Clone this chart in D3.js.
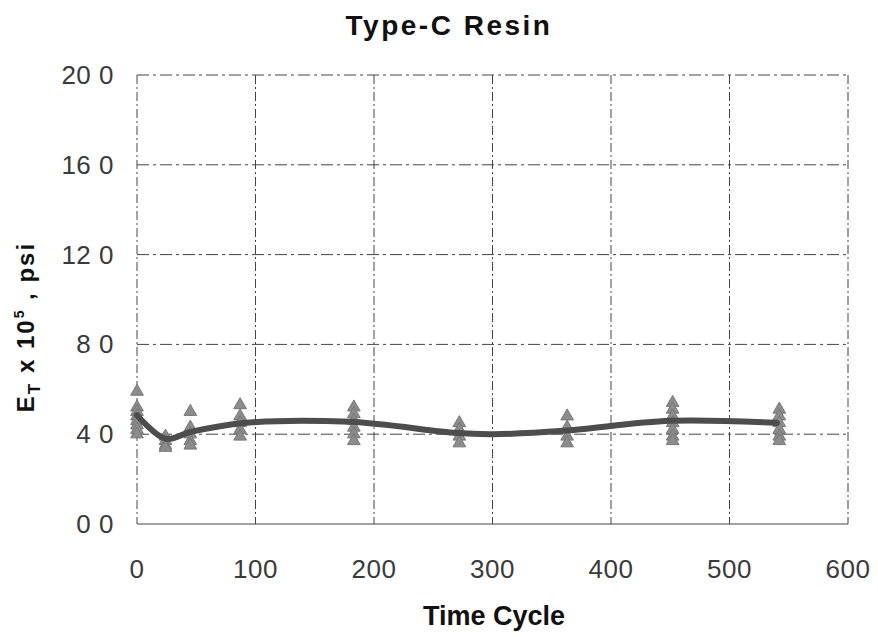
<!DOCTYPE html>
<html>
<head>
<meta charset="utf-8">
<script src="https://cdn.jsdelivr.net/npm/d3@7"></script>
<style>
  body { margin: 0; background: #fff; }
  .tick-label { font-family: "Liberation Sans", Arial, sans-serif; font-size: 26px; fill: #3a3a3a; letter-spacing: 0.5px; }
  .title { font-family: "Liberation Sans", Arial, sans-serif; font-weight: bold; font-size: 28px; fill: #111; letter-spacing: 2.5px; }
  .axis-title { font-family: "Liberation Sans", Arial, sans-serif; font-weight: bold; font-size: 27px; fill: #111; }
</style>
</head>
<body>
<div id="chart"></div>
<script>
// data (E_T in units of 10^5 psi)
var xTicks = [0, 100, 200, 300, 400, 500, 600];
var yTicks = [0, 4, 8, 12, 16, 20];
var yTickLabels = ["0 0", "4 0", "8 0", "12 0", "16 0", "20 0"];

var sampleTimes = [0, 24, 45, 87, 183, 272, 363, 452, 542];
var sampleValues = [
  [5.9, 5.2, 5.0, 4.8, 4.6, 4.4, 4.2, 4.0],
  [3.9, 3.7, 3.5, 3.4],
  [5.0, 4.3, 4.0, 3.7, 3.5],
  [5.3, 4.8, 4.5, 4.2, 3.9],
  [5.2, 4.9, 4.6, 4.3, 4.0, 3.7],
  [4.5, 4.2, 3.9, 3.6],
  [4.8, 4.3, 3.9, 3.6],
  [5.4, 5.1, 4.8, 4.5, 4.2, 3.9, 3.7],
  [5.1, 4.8, 4.5, 4.2, 3.9, 3.7]
];

var trendTimes = [0, 24, 45, 90, 180, 270, 300, 360, 450, 540];
var trendValues = [4.85, 3.8, 4.1, 4.5, 4.55, 4.05, 4.0, 4.15, 4.6, 4.5];

var W = 878, H = 637;
var margin = {top: 75, right: 30, bottom: 113, left: 137},
    width = W - margin.left - margin.right,
    height = H - margin.top - margin.bottom;

var svg = d3.select("#chart").append("svg")
    .attr("width", W)
    .attr("height", H);

var g = svg.append("g")
    .attr("transform", "translate(" + margin.left + "," + margin.top + ")");

var x = d3.scaleLinear().domain([0, 600]).range([0, width]);
var y = d3.scaleLinear().domain([0, 20]).range([height, 0]);

// grid lines
g.selectAll(".vgrid")
  .data(xTicks)
  .enter().append("line")
    .attr("x1", function(d) { return x(d); })
    .attr("x2", function(d) { return x(d); })
    .attr("y1", 0)
    .attr("y2", height)
    .attr("stroke", "#444")
    .attr("stroke-width", 1)
    .attr("stroke-dasharray", "9,3,2,3");

g.selectAll(".hgrid")
  .data(yTicks)
  .enter().append("line")
    .attr("x1", 0)
    .attr("x2", width)
    .attr("y1", function(d) { return y(d); })
    .attr("y2", function(d) { return y(d); })
    .attr("stroke", "#444")
    .attr("stroke-width", 1)
    .attr("stroke-dasharray", function(d) { return d === 0 ? null : "12,4,3,4"; });

// tick labels
g.selectAll(".xlab")
  .data(xTicks)
  .enter().append("text")
    .attr("class", "tick-label")
    .attr("x", function(d) { return x(d); })
    .attr("y", height + 54)
    .attr("text-anchor", "middle")
    .text(function(d) { return d; });

g.selectAll(".ylab")
  .data(yTicks)
  .enter().append("text")
    .attr("class", "tick-label")
    .attr("x", -23)
    .attr("y", function(d) { return y(d) + 9; })
    .attr("text-anchor", "end")
    .text(function(d, i) { return yTickLabels[i]; });

// sample markers (triangles)
var points = [];
sampleTimes.forEach(function(t, i) {
  sampleValues[i].forEach(function(v) { points.push({t: t, v: v}); });
});

var tri = d3.symbol().type(d3.symbolTriangle).size(70);

g.selectAll(".pt")
  .data(points)
  .enter().append("path")
    .attr("d", tri)
    .attr("transform", function(d) { return "translate(" + x(d.t) + "," + y(d.v) + ")"; })
    .attr("fill", "#8c8c8c")
    .attr("stroke", "#777")
    .attr("stroke-width", 1);

// trend line
var trend = trendTimes.map(function(t, i) { return {t: t, v: trendValues[i]}; });

var valueline = d3.line()
    .x(function(d) { return x(d.t); })
    .y(function(d) { return y(d.v); })
    .curve(d3.curveCatmullRom.alpha(0.5));

g.append("path")
    .datum(trend)
    .attr("d", valueline)
    .attr("fill", "none")
    .attr("stroke", "#4d4d4d")
    .attr("stroke-width", 6)
    .attr("stroke-linecap", "round");

// titles
svg.append("text")
    .attr("class", "title")
    .attr("x", 449)
    .attr("y", 35)
    .attr("text-anchor", "middle")
    .text("Type-C Resin");

svg.append("text")
    .attr("class", "axis-title")
    .attr("x", 494)
    .attr("y", 625)
    .attr("text-anchor", "middle")
    .text("Time Cycle");

var yt = svg.append("text")
    .attr("class", "axis-title")
    .attr("transform", "translate(34,327) rotate(-90)")
    .attr("text-anchor", "middle")
    .style("font-size", "24px")
    .style("letter-spacing", "2px");
yt.append("tspan").text("E");
yt.append("tspan").attr("dy", 6).attr("font-size", 17).text("T");
yt.append("tspan").attr("dy", -6).text(" x 10");
yt.append("tspan").attr("dy", -10).attr("font-size", 14).text("5");
yt.append("tspan").attr("dy", 10).text(" , psi");
</script>
</body>
</html>
